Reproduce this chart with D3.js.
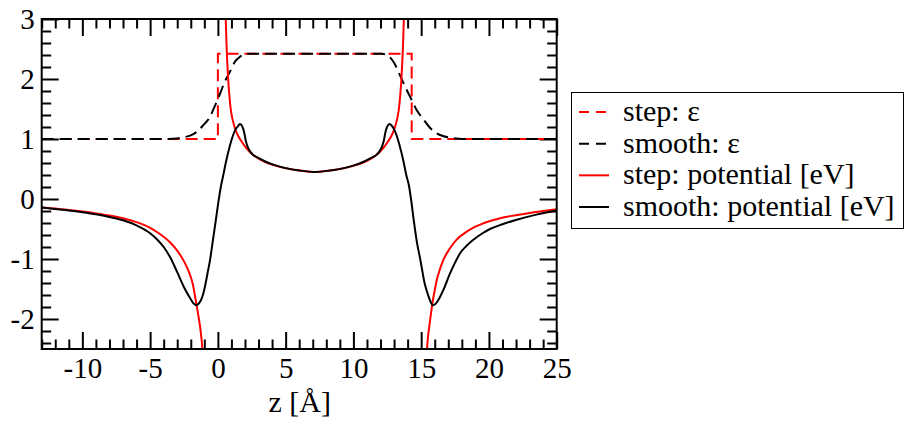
<!DOCTYPE html>
<html><head><meta charset="utf-8">
<script src="https://cdn.jsdelivr.net/npm/d3@7"></script>
</head>
<body style="margin:0">
<svg id="chart" width="905" height="423"></svg>
<script>
// ---------- data ----------
const xMajorTicks = [-10, -5, 0, 5, 10, 15, 20, 25];
const yMajorTicks = [-2, -1, 0, 1, 2, 3];
const xTickLabels = ["-10", "-5", "0", "5", "10", "15", "20", "25"];
const yTickLabels = ["-2", "-1", "0", "1", "2", "3"];

const stepEpsZ = [-13, 0, 0, 14.3, 14.3, 25];
const stepEpsV = [1, 1, 2.42, 2.42, 1, 1];

const smoothEpsZ = [-13, -4, -3, -2.5, -2, -1.5, -1.08, -0.58, -0.34, 0.15, 0.5, 0.89, 1.26, 1.63, 1.9, 2.2,
  12.1, 12.6, 13.0, 13.44, 13.8, 14.3, 14.7, 15.16, 15.6, 16.15, 16.6, 17.1, 17.6, 18.3, 25];
const smoothEpsV = [1, 1, 1.01, 1.03, 1.06, 1.13, 1.23, 1.37, 1.49, 1.75, 1.95, 2.12, 2.29, 2.37, 2.41, 2.42,
  2.42, 2.38, 2.27, 2.06, 1.88, 1.65, 1.47, 1.33, 1.2, 1.095, 1.05, 1.025, 1.01, 1.0, 1];

// step potential: three branches
const stepPotLeftZ = [-13, -12, -11, -10, -9, -8, -7, -6, -5, -4.5, -4, -3.5, -3, -2.5, -2.2, -2, -1.85, -1.7, -1.6, -1.5, -1.4, -1.3, -1.2, -1.1];
const stepPotLeftV = [-0.14, -0.16, -0.185, -0.21, -0.24, -0.275, -0.32, -0.385, -0.48, -0.55, -0.63, -0.73, -0.86, -1.04, -1.18, -1.3, -1.42, -1.6, -1.73, -1.86, -2.0, -2.15, -2.35, -2.6];

const stepPotInZ = [0.5, 0.55, 0.6, 0.65, 0.7, 0.77, 0.85, 0.94, 1.05, 1.26, 1.5, 1.76, 2.1, 2.61, 3.1, 3.72, 4.5, 5.32, 6.2, 7.15,
  8.1, 8.98, 9.8, 10.58, 11.2, 11.69, 12.2, 12.54, 12.8, 13.04, 13.25, 13.36, 13.45, 13.53, 13.6, 13.65, 13.7, 13.75, 13.8];
const stepPotInV = [3.6, 3.2, 2.85, 2.5, 2.25, 1.955, 1.72, 1.51, 1.36, 1.18, 1.05, 0.955, 0.85, 0.733, 0.66, 0.595, 0.54, 0.5, 0.47, 0.45,
  0.47, 0.5, 0.54, 0.595, 0.66, 0.733, 0.85, 0.955, 1.05, 1.18, 1.36, 1.51, 1.72, 1.955, 2.25, 2.5, 2.85, 3.2, 3.6];

const stepPotRightZ = [15.4, 15.5, 15.6, 15.7, 15.82, 16.0, 16.15, 16.4, 16.63, 17.13, 17.6, 18.36, 19.0, 19.59, 20.82, 22.0, 22.79, 24.0, 25];
const stepPotRightV = [-2.6, -2.3, -2.12, -1.95, -1.75, -1.52, -1.35, -1.16, -1.02, -0.82, -0.68, -0.545, -0.46, -0.405, -0.32, -0.27, -0.24, -0.2, -0.17];

const smoothPotZ = [-13, -12, -11, -10, -9, -8, -7, -6, -5, -4.5, -4, -3.5, -3, -2.5, -2, -1.8, -1.6, -1.4, -1.2, -1.07, -0.9, -0.75, -0.58, -0.4, -0.15, 0.05, 0.2, 0.4, 0.6, 0.9, 1.1, 1.3, 1.5, 1.63, 1.75, 1.85, 1.95, 2.05, 2.15, 2.3, 2.6, 3.0, 3.5, 4.2, 5.0, 6.0, 7.15,
  8.3, 9.3, 10.1, 10.8, 11.3, 11.7, 12.0, 12.15, 12.25, 12.35, 12.45, 12.55, 12.67, 12.8, 13.0, 13.2, 13.4, 13.7, 13.9, 14.1, 14.25, 14.45, 14.7, 14.92, 15.1, 15.25, 15.41, 15.6, 15.75, 15.9, 16.1, 16.35, 16.63, 17.13, 17.5, 17.87, 18.35, 18.85, 19.5, 20.08, 21, 22.05, 23.5, 25];
const smoothPotV = [-0.14, -0.165, -0.19, -0.22, -0.255, -0.3, -0.355, -0.44, -0.57, -0.67, -0.8, -0.98, -1.22, -1.47, -1.67, -1.74, -1.77, -1.74, -1.66, -1.57, -1.4, -1.22, -1.02, -0.74, -0.35, -0.03, 0.18, 0.4, 0.62, 0.9, 1.05, 1.16, 1.22, 1.25, 1.23, 1.18, 1.1, 0.98, 0.9, 0.82, 0.735, 0.685, 0.625, 0.565, 0.515, 0.475, 0.45,
  0.475, 0.515, 0.565, 0.625, 0.685, 0.735, 0.82, 0.9, 0.98, 1.1, 1.18, 1.23, 1.25, 1.23, 1.16, 1.05, 0.9, 0.62, 0.4, 0.22, 0.0, -0.35, -0.74, -0.99, -1.22, -1.4, -1.53, -1.66, -1.74, -1.77, -1.74, -1.65, -1.52, -1.24, -1.06, -0.905, -0.78, -0.68, -0.575, -0.5, -0.42, -0.345, -0.26, -0.19];

const legendLabels = ["step: \u03b5", "smooth: \u03b5", "step: potential [eV]", "smooth: potential [eV]"];
const legendColors = ["#ff0000", "#000000", "#ff0000", "#000000"];
const legendDashed = [true, true, false, false];

// ---------- layout ----------
const FONT = "Liberation Serif";
const plot = {left: 41.7, right: 556.7, top: 19, bottom: 349};
const svg = d3.select("#chart");
const x = d3.scaleLinear().domain([-13, 25]).range([plot.left, plot.right]);
const y = d3.scaleLinear().domain([-2.5, 3]).range([plot.bottom, plot.top]);

const FS = 29, FS_BIG = 30;
const majorLen = 17, minorLen = 9.5;

svg.append("defs").append("clipPath").attr("id", "clip")
  .append("rect").attr("x", plot.left).attr("y", plot.top)
  .attr("width", plot.right - plot.left).attr("height", plot.bottom - plot.top);

const xMinor = d3.range(-13, 25.001, 1).filter(v => !xMajorTicks.includes(v));
const yMinor = d3.range(-2.4, 3.0001, 0.2).map(v => Math.round(v * 10) / 10).filter(v => !yMajorTicks.includes(v));

function styleAxis(g) {
  g.select(".domain").remove();
  g.selectAll(".tick line").attr("stroke", "#000").attr("stroke-width", 2);
  g.selectAll(".tick text").style("font-family", FONT).style("font-size", FS + "px").attr("fill", "#000");
}

// bottom
svg.append("g").attr("transform", `translate(0,${plot.bottom})`)
  .call(d3.axisBottom(x).tickValues(xMinor).tickSize(-minorLen).tickFormat(""))
  .call(styleAxis);
svg.append("g").attr("transform", `translate(0,${plot.bottom})`)
  .call(d3.axisBottom(x).tickValues(xMajorTicks).tickSize(-majorLen).tickPadding(8)
        .tickFormat((d, i) => xTickLabels[i]))
  .call(styleAxis);
// top
svg.append("g").attr("transform", `translate(0,${plot.top})`)
  .call(d3.axisTop(x).tickValues(xMinor).tickSize(-minorLen).tickFormat(""))
  .call(styleAxis);
svg.append("g").attr("transform", `translate(0,${plot.top})`)
  .call(d3.axisTop(x).tickValues(xMajorTicks).tickSize(-majorLen).tickFormat(""))
  .call(styleAxis);
// left
svg.append("g").attr("transform", `translate(${plot.left},0)`)
  .call(d3.axisLeft(y).tickValues(yMinor).tickSize(-minorLen).tickFormat(""))
  .call(styleAxis);
svg.append("g").attr("transform", `translate(${plot.left},0)`)
  .call(d3.axisLeft(y).tickValues(yMajorTicks).tickSize(-majorLen).tickPadding(7)
        .tickFormat((d, i) => yTickLabels[i]))
  .call(styleAxis);
// right
svg.append("g").attr("transform", `translate(${plot.right},0)`)
  .call(d3.axisRight(y).tickValues(yMinor).tickSize(-minorLen).tickFormat(""))
  .call(styleAxis);
svg.append("g").attr("transform", `translate(${plot.right},0)`)
  .call(d3.axisRight(y).tickValues(yMajorTicks).tickSize(-majorLen).tickFormat(""))
  .call(styleAxis);

// axis title
svg.append("text").attr("x", (plot.left + plot.right) / 2 + 0.5).attr("y", 412)
  .attr("text-anchor", "middle").style("font-family", FONT)
  .style("font-size", FS_BIG + "px").attr("fill", "#000").text("z [\u00c5]");

// ---------- series ----------
const curves = svg.append("g").attr("clip-path", "url(#clip)");
const zip = (zs, vs) => zs.map((z, i) => [z, vs[i]]);
const lineLin = d3.line().x(d => x(d[0])).y(d => y(d[1]));
const lineSm = d3.line().x(d => x(d[0])).y(d => y(d[1])).curve(d3.curveMonotoneX);

curves.append("path").datum(zip(stepEpsZ, stepEpsV)).attr("d", lineLin)
  .attr("fill", "none").attr("stroke", "#ff0000").attr("stroke-width", 2).attr("stroke-dasharray", "12,6");
curves.append("path").datum(zip(smoothEpsZ, smoothEpsV)).attr("d", lineSm)
  .attr("fill", "none").attr("stroke", "#000").attr("stroke-width", 2).attr("stroke-dasharray", "12,6");

[[stepPotLeftZ, stepPotLeftV], [stepPotInZ, stepPotInV], [stepPotRightZ, stepPotRightV]].forEach(([zs, vs]) => {
  curves.append("path").datum(zip(zs, vs)).attr("d", lineSm)
    .attr("fill", "none").attr("stroke", "#ff0000").attr("stroke-width", 2);
});
curves.append("path").datum(zip(smoothPotZ, smoothPotV)).attr("d", lineSm)
  .attr("fill", "none").attr("stroke", "#000").attr("stroke-width", 2);

// frame
svg.append("rect").attr("x", plot.left).attr("y", plot.top)
  .attr("width", plot.right - plot.left).attr("height", plot.bottom - plot.top)
  .attr("fill", "none").attr("stroke", "#000").attr("stroke-width", 2);

// ---------- legend ----------
const lg = svg.append("g");
lg.append("rect").attr("x", 571.5).attr("y", 92.5).attr("width", 332).attr("height", 136)
  .attr("fill", "#fff").attr("stroke", "#000").attr("stroke-width", 1);
const rowY = d3.scalePoint().domain(d3.range(legendLabels.length)).range([112, 207]);
legendLabels.forEach((lab, i) => {
  const yy = rowY(i);
  lg.append("line").attr("x1", 579).attr("x2", 609).attr("y1", yy).attr("y2", yy)
    .attr("stroke", legendColors[i]).attr("stroke-width", 2)
    .attr("stroke-dasharray", legendDashed[i] ? "10,7" : null);
  lg.append("text").attr("x", 623).attr("y", yy).attr("dy", "0.3em")
    .style("font-family", FONT).style("font-size", FS_BIG + "px").attr("fill", "#000").text(lab);
});
</script>
</body></html>
